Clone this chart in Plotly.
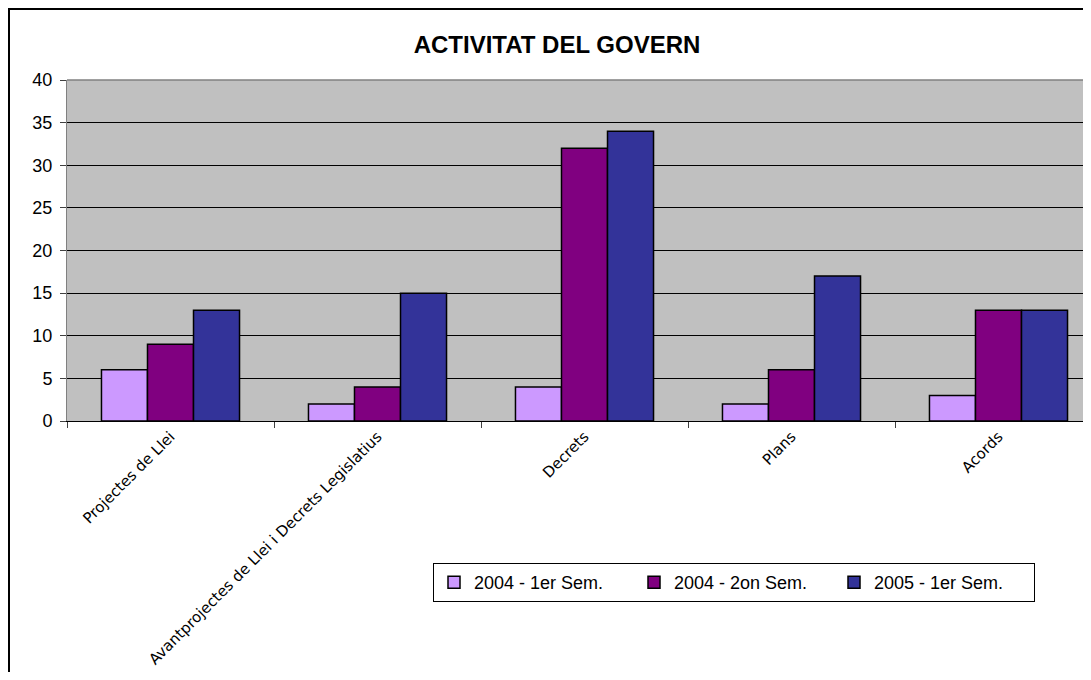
import plotly.graph_objects as go

categories = ["Projectes de Llei", "Avantprojectes de Llei i Decrets Legislatius",
              "Decrets", "Plans", "Acords"]
s2004_1 = [6, 2, 4, 2, 3]
s2004_2 = [9, 4, 32, 6, 13]
s2005_1 = [13, 15, 34, 17, 13]
series_names = ["2004 - 1er Sem.", "2004 - 2on Sem.", "2005 - 1er Sem."]
colors = ["#CC99FF", "#800080", "#333399"]
y_ticks = [0, 5, 10, 15, 20, 25, 30, 35, 40]

# page body has an 8px margin; figure coordinates = screen - 8
W, H = 1075, 664
L, T, R_px, B_px = 59, 72, 1075, 413
pw, ph = R_px - L, B_px - T

fig = go.Figure()
for name, vals, c in zip(series_names, [s2004_1, s2004_2, s2005_1], colors):
    fig.add_trace(go.Bar(x=categories, y=vals, name=name, marker_color=c,
                         marker_line_color="black", marker_line_width=1.5))

def px_x(x):
    return (x - L) / pw

def px_y(y):
    return (B_px - y) / ph

cat_w = 207.0
x_max = -0.5 + pw / cat_w

fig.update_layout(
    width=W, height=H,
    margin=dict(l=L, r=W - R_px, t=T, b=H - B_px),
    paper_bgcolor="white", plot_bgcolor="#C0C0C0",
    barmode="group", bargap=0.333, bargroupgap=0,
    font=dict(family="Liberation Sans, Arial", color="black"),
    title=dict(text="<b>ACTIVITAT DEL GOVERN</b>", font=dict(size=24, family="Liberation Sans, Arial"),
               x=px_x(549), xref="paper", xanchor="center",
               y=1 - 37 / H, yref="container", yanchor="middle"),
    showlegend=True,
    legend=dict(orientation="h", x=px_x(425), y=px_y(555), xanchor="left", yanchor="top",
                bordercolor="black", borderwidth=1, bgcolor="white",
                font=dict(size=18, family="Liberation Sans, Arial"),
                itemwidth=30, entrywidth=155, entrywidthmode="pixels", traceorder="normal"),
    xaxis=dict(type="category", range=[-0.5, x_max], showline=True, linecolor="black", linewidth=1,
               ticks="outside", ticklen=6, tickcolor="#404040", tickson="boundaries",
               tickangle=-45, tickfont=dict(size=15, family="DejaVu Sans"), showgrid=False),
    yaxis=dict(range=[0, 40], tickvals=y_ticks, showgrid=True, gridcolor="black", gridwidth=1,
               showline=True, linecolor="#808080", linewidth=1, ticks="outside", ticklen=6,
               tickcolor="#404040", tickfont=dict(size=18), zeroline=False, ticklabelstandoff=4),
    shapes=[
        dict(type="line", xref="paper", yref="paper", x0=0, x1=1, y0=1, y1=1,
             line=dict(color="#808080", width=1.5)),
        dict(type="rect", xref="paper", yref="paper", x0=px_x(1), x1=px_x(1200),
             y0=px_y(800), y1=px_y(1), line=dict(color="black", width=2), layer="above"),
    ],
)

fig.write_html("out.html")
